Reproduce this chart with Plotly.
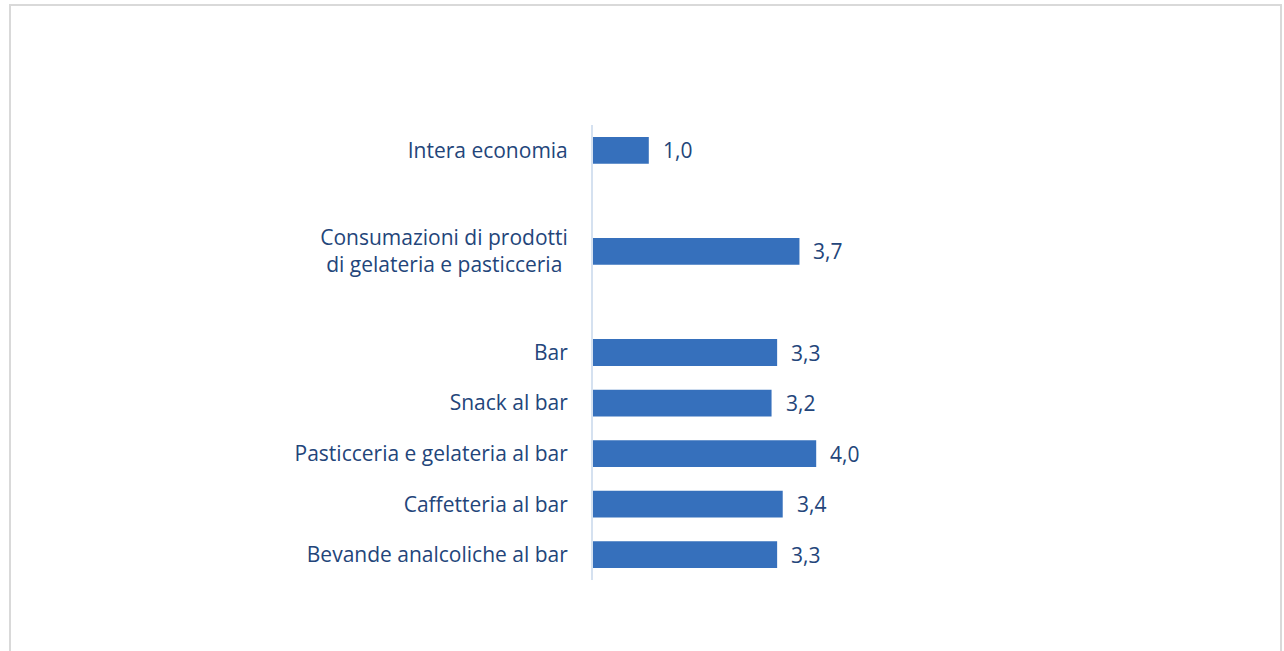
import plotly.graph_objects as go

# categories top to bottom; blank entries are the empty slots between groups
categories = ["Intera economia", " ",
              "Consumazioni di prodotti<br>di gelateria e pasticceria ", "  ",
              "Bar", "Snack al bar", "Pasticceria e gelateria al bar",
              "Caffetteria al bar", "Bevande analcoliche al bar"]
values = [1.0, None, 3.7, None, 3.3, 3.2, 4.0, 3.4, 3.3]

W, H = 1284, 651
ml, mr, mt, mb = 593, 24, 125, 71
pw, ph = W - ml - mr, H - mt - mb

text_col = "#23457A"
bar_col = "#3670BC"
font = "Open Sans"
fsize = 21

fig = go.Figure()
fig.add_trace(go.Bar(
    y=categories, x=values, orientation="h",
    marker=dict(color=bar_col, line=dict(width=0)),
    width=0.53, hoverinfo="skip",
))

# value labels
for c, v in zip(categories, values):
    if v is None:
        continue
    fig.add_annotation(x=v, y=c, text=f"{v:.1f}".replace(".", ","),
                       showarrow=False, xanchor="left", xshift=12,
                       font=dict(family=font, size=fsize, color=text_col))

# outer frame, given in pixels
def px_x(p):
    return (p - ml) / pw

def px_y(p):
    return (H - mb - p) / ph

fig.add_shape(type="rect", xref="paper", yref="paper",
              x0=px_x(10), x1=px_x(1281), y0=px_y(670), y1=px_y(5),
              line=dict(color="#D9D9D9", width=2), fillcolor="rgba(0,0,0,0)")

fig.update_layout(
    width=W, height=H,
    margin=dict(l=ml, r=mr, t=mt, b=mb),
    paper_bgcolor="white", plot_bgcolor="white",
    showlegend=False,
    font=dict(family=font, size=fsize, color=text_col),
)
fig.update_xaxes(range=[0, pw / 55.8], visible=False, fixedrange=True)
fig.update_yaxes(
    categoryorder="array", categoryarray=categories[::-1],
    autorange=False, range=[-0.5, len(categories) - 0.5],
    showline=True, linecolor="#D5E1F0", linewidth=2,
    showgrid=False, zeroline=False,
    ticks="outside", ticklen=19, tickcolor="rgba(0,0,0,0)",
    tickfont=dict(family=font, size=fsize, color=text_col),
)

fig.write_html("out.html", config={"displayModeBar": False},
               post_script="document.body.style.margin='0';")
